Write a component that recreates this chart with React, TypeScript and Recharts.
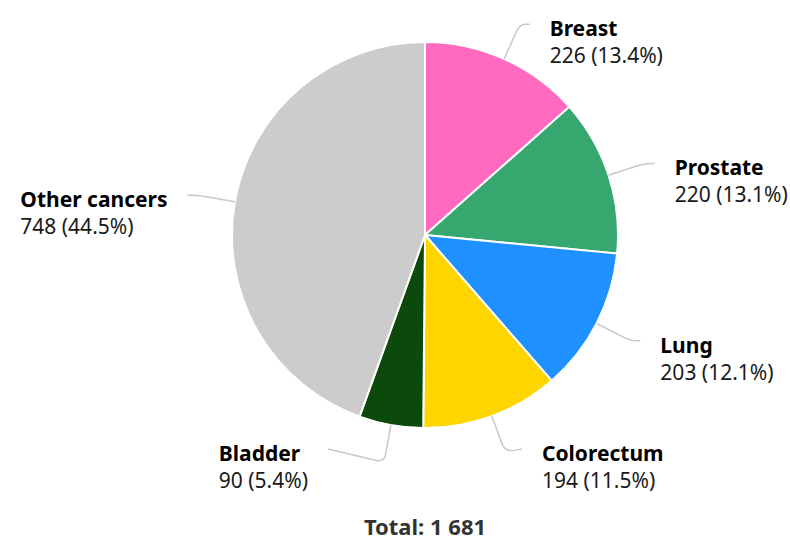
import { PieChart, Pie, Cell } from 'recharts';

const cancerTypes = ['Breast', 'Prostate', 'Lung', 'Colorectum', 'Bladder', 'Other cancers'];
const caseCounts = [226, 220, 203, 194, 90, 748];
const sliceColors = ['#ff69be', '#36a86f', '#1e90ff', '#ffd500', '#0b4a0b', '#cccccc'];

const total = caseCounts.reduce((s, v) => s + v, 0);
const chartData = cancerTypes.map((name, i) => ({ name, value: caseCounts[i] }));

const FONT = "'Noto Sans', 'Open Sans', sans-serif";
const FONT_SIZE = 21;

// measure text width so left-side labels can be left aligned inside their box
const measure = (text: string, bold: boolean) => {
  const ctx = document.createElement('canvas').getContext('2d');
  if (!ctx) return text.length * FONT_SIZE * 0.55;
  ctx.font = `${bold ? 'bold ' : ''}${FONT_SIZE}px ${FONT}`;
  return ctx.measureText(text).width;
};

const fmt = (n: number) => n.toLocaleString('en-US').replace(/,/g, ' ');

const RAD = Math.PI / 180;

const renderLabel = (props: any) => {
  const { cx, cy, midAngle, outerRadius, index, value } = props;
  const cos = Math.cos(-midAngle * RAD);
  const sin = Math.sin(-midAngle * RAD);
  const left = cos < 0;
  const R = outerRadius + 38;

  // point on the slice edge
  const x0 = cx + outerRadius * cos;
  const y0 = cy + outerRadius * sin;
  // natural elbow
  const ex = cx + R * cos;
  const ey = cy + R * sin;
  // label anchor, kept inside the plot
  const y = Math.max(cy - 214, Math.min(cy + 214, ey));
  const a = Math.asin(Math.max(-1, Math.min(1, (y - cy) / R)));
  const gx = cx + (left ? -1 : 1) * Math.cos(a) * R;
  const endX = gx + (left ? -10 : 10);

  // rounded corner at the elbow
  const d1 = Math.hypot(ex - x0, ey - y0);
  const d2 = Math.hypot(endX - ex, y - ey);
  const rr = 9;
  const t1 = d1 > 0 ? Math.min(rr, d1 / 2) / d1 : 0;
  const t2 = d2 > 0 ? Math.min(rr, d2 / 2) / d2 : 0;
  const p1x = ex - (ex - x0) * t1;
  const p1y = ey - (ey - y0) * t1;
  const p2x = ex + (endX - ex) * t2;
  const p2y = ey + (y - ey) * t2;
  const path = `M${x0},${y0} L${p1x},${p1y} Q${ex},${ey} ${p2x},${p2y} L${endX},${y}`;

  const name = cancerTypes[index];
  const line2 = `${fmt(value)} (${((value / total) * 100).toFixed(1)}%)`;
  const boxW = Math.max(measure(name, true), measure(line2, false));
  const tx = left ? gx - 30 - boxW : gx + 30;

  return (
    <g key={`lbl-${index}`}>
      <path d={path} fill="none" stroke="#c8c8c8" strokeWidth={1.5} />
      <text x={tx} y={y + 12} fontFamily={FONT} fontSize={FONT_SIZE} fontWeight="bold" fill="#000" textAnchor="start">
        {name}
      </text>
      <text x={tx} y={y + 39} fontFamily={FONT} fontSize={FONT_SIZE} fill="#1a1a1a" textAnchor="start">
        {line2}
      </text>
    </g>
  );
};

export default function App() {
  return (
    <div style={{ position: 'absolute', left: 0, top: 0, width: 790, height: 536, background: '#fff', overflow: 'hidden' }}>
      <PieChart width={790} height={536} margin={{ top: 0, right: 0, bottom: 0, left: 0 }}>
        <Pie
          data={chartData}
          dataKey="value"
          nameKey="name"
          cx={425}
          cy={235}
          outerRadius={193}
          startAngle={90}
          endAngle={-270}
          stroke="#ffffff"
          strokeWidth={2}
          label={renderLabel}
          labelLine={false}
          isAnimationActive={false}
        >
          {chartData.map((_, i) => (
            <Cell key={i} fill={sliceColors[i]} />
          ))}
        </Pie>
      </PieChart>
      <svg width={790} height={536} style={{ position: 'absolute', left: 0, top: 0, pointerEvents: 'none' }}>
        <text x={425} y={535} textAnchor="middle" fontFamily={FONT} fontSize={22} fontWeight="bold" fill="#333333">
          Total: {fmt(total)}
        </text>
      </svg>
    </div>
  );
}
